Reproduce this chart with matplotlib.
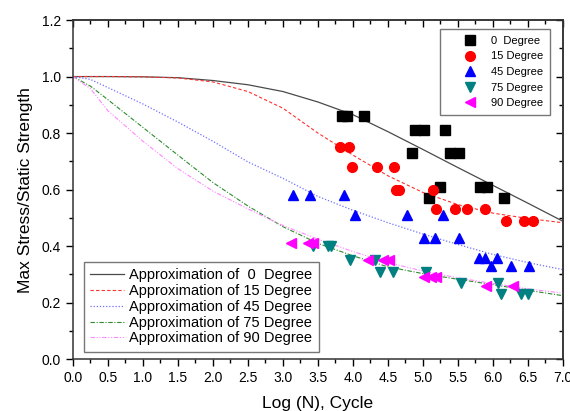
import matplotlib.pyplot as plt
from matplotlib.ticker import MultipleLocator

plt.rcParams['font.family'] = ['Liberation Sans', 'DejaVu Sans']

# measured points (Log N, max stress / static strength)
deg0_x = [3.85, 3.92, 4.16, 4.88, 5.02, 5.32, 4.85, 5.39, 5.52, 5.25, 5.82, 5.92, 5.09, 6.16]
deg0_y = [0.86, 0.86, 0.86, 0.81, 0.81, 0.81, 0.73, 0.73, 0.73, 0.61, 0.61, 0.61, 0.57, 0.57]

deg15_x = [3.81, 3.95, 3.98, 4.35, 4.58, 4.62, 4.66, 5.15, 5.18, 5.46, 5.63, 5.89, 6.18, 6.45, 6.57]
deg15_y = [0.75, 0.75, 0.68, 0.68, 0.68, 0.60, 0.60, 0.60, 0.53, 0.53, 0.53, 0.53, 0.49, 0.49, 0.49]

deg45_x = [3.15, 3.39, 3.87, 4.03, 4.77, 5.28, 5.02, 5.17, 5.52, 5.80, 5.89, 6.06, 5.97, 6.26, 6.52]
deg45_y = [0.58, 0.58, 0.58, 0.51, 0.51, 0.51, 0.43, 0.43, 0.43, 0.36, 0.36, 0.36, 0.33, 0.33, 0.33]

deg75_x = [3.43, 3.65, 3.69, 3.96, 4.32, 4.38, 4.57, 5.04, 5.54, 6.07, 6.11, 6.40, 6.50]
deg75_y = [0.40, 0.40, 0.40, 0.35, 0.35, 0.31, 0.31, 0.31, 0.27, 0.27, 0.23, 0.23, 0.23]

deg90_x = [3.12, 3.36, 3.43, 4.21, 4.43, 4.51, 5.02, 5.12, 5.19, 5.90, 6.28]
deg90_y = [0.41, 0.41, 0.41, 0.35, 0.35, 0.35, 0.29, 0.29, 0.29, 0.26, 0.26]

# approximation curves
curve_x = [0, 0.25, 0.5, 1.0, 1.5, 2.0, 2.5, 3.0, 3.5, 4.0, 4.5, 5.0, 5.5, 6.0, 6.5, 7.0]
approx_0 = [1.0, 1.0, 1.0, 0.999, 0.996, 0.986, 0.971, 0.947, 0.910, 0.865, 0.805, 0.742, 0.678, 0.615, 0.552, 0.488]
approx_15 = [1.0, 1.0, 1.0, 0.999, 0.995, 0.981, 0.947, 0.888, 0.800, 0.722, 0.649, 0.590, 0.547, 0.517, 0.498, 0.483]
approx_45 = [1.0, 0.99, 0.961, 0.903, 0.839, 0.771, 0.698, 0.640, 0.576, 0.527, 0.483, 0.443, 0.406, 0.371, 0.342, 0.317]
approx_75 = [1.0, 0.966, 0.918, 0.820, 0.722, 0.625, 0.542, 0.469, 0.410, 0.366, 0.327, 0.303, 0.283, 0.264, 0.244, 0.225]
approx_90 = [1.0, 0.957, 0.879, 0.771, 0.674, 0.595, 0.532, 0.473, 0.425, 0.381, 0.342, 0.312, 0.288, 0.268, 0.249, 0.234]

fig = plt.figure(figsize=(5.7, 4.11), dpi=100)
ax = fig.add_axes([0.128, 0.1258, 0.8597, 0.8255])

# curves
l0, = ax.plot(curve_x, approx_0, color='#4a4a4a', lw=0.9, ls='-', label='Approximation of  0  Degree')
l15, = ax.plot(curve_x, approx_15, color='#ff3030', lw=0.8, ls=(0, (3, 2)), label='Approximation of 15 Degree')
l45, = ax.plot(curve_x, approx_45, color='#7070ff', lw=0.9, ls=(0, (1, 1.5)), label='Approximation of 45 Degree')
l75, = ax.plot(curve_x, approx_75, color='#2e8b2e', lw=0.8, ls=(0, (4, 1.5, 1, 1.5)), label='Approximation of 75 Degree')
l90, = ax.plot(curve_x, approx_90, color='#ff88ff', lw=0.8, ls=(0, (4, 1.5, 1, 1.5, 1, 1.5)), label='Approximation of 90 Degree')

# data points
p0, = ax.plot(deg0_x, deg0_y, 's', color='black', ms=6.5, ls='none', label='0  Degree')
p15, = ax.plot(deg15_x, deg15_y, 'o', color='#ff0000', ms=7, ls='none', label='15 Degree')
p45, = ax.plot(deg45_x, deg45_y, '^', color='#0000ff', ms=7, ls='none', label='45 Degree')
p75, = ax.plot(deg75_x, deg75_y, 'v', color='#008080', ms=7, ls='none', label='75 Degree')
p90, = ax.plot(deg90_x, deg90_y, '<', color='#ff00ff', ms=7, ls='none', label='90 Degree')

ax.set_xlim(0, 7.0)
ax.set_ylim(0, 1.2)
ax.xaxis.set_major_locator(MultipleLocator(0.5))
ax.xaxis.set_minor_locator(MultipleLocator(0.25))
ax.yaxis.set_major_locator(MultipleLocator(0.2))
ax.yaxis.set_minor_locator(MultipleLocator(0.1))
ax.tick_params(which='both', direction='out', top=False, right=False, labelsize=10, width=1)
ax.tick_params(which='major', length=5)
ax.tick_params(which='minor', length=3)
ax.xaxis.set_major_formatter(plt.FormatStrFormatter('%.1f'))
ax.yaxis.set_major_formatter(plt.FormatStrFormatter('%.1f'))

# mirrored ticks pointing inward on top and right
top = ax.secondary_xaxis('top')
top.xaxis.set_major_locator(MultipleLocator(0.5))
top.xaxis.set_minor_locator(MultipleLocator(0.25))
top.tick_params(which='both', direction='in', labeltop=False, width=1)
top.tick_params(which='major', length=5)
top.tick_params(which='minor', length=3)
right = ax.secondary_yaxis('right')
right.yaxis.set_major_locator(MultipleLocator(0.2))
right.yaxis.set_minor_locator(MultipleLocator(0.1))
right.tick_params(which='both', direction='in', labelright=False, width=1)
right.tick_params(which='major', length=5)
right.tick_params(which='minor', length=3)

for s in list(ax.spines.values()) + [top.spines['top'], right.spines['right']]:
    s.set_linewidth(1.1)
    s.set_color('#333333')

ax.set_xlabel('Log (N), Cycle', fontsize=12.5, labelpad=8)
ax.set_ylabel('Max Stress/Static Strength', fontsize=12.5, labelpad=6)

leg1 = ax.legend(handles=[p0, p15, p45, p75, p90], loc='upper right', bbox_to_anchor=(0.973, 0.973),
                 borderaxespad=0, fontsize=8, fancybox=False, framealpha=1, edgecolor='#777777',
                 handlelength=4.3, handletextpad=-0.3, borderpad=0.6, labelspacing=0.5)
leg1.get_frame().set_linewidth(1)
ax.add_artist(leg1)

leg2 = ax.legend(handles=[l0, l15, l45, l75, l90], loc='lower left', bbox_to_anchor=(0.022, 0.0215),
                 borderaxespad=0, fontsize=10.5, fancybox=False, framealpha=1, edgecolor='#777777',
                 handlelength=2.3, handletextpad=0.35, borderpad=0.45, labelspacing=0.12)
leg2.get_frame().set_linewidth(1)

fig.savefig('out.png', dpi=100)
